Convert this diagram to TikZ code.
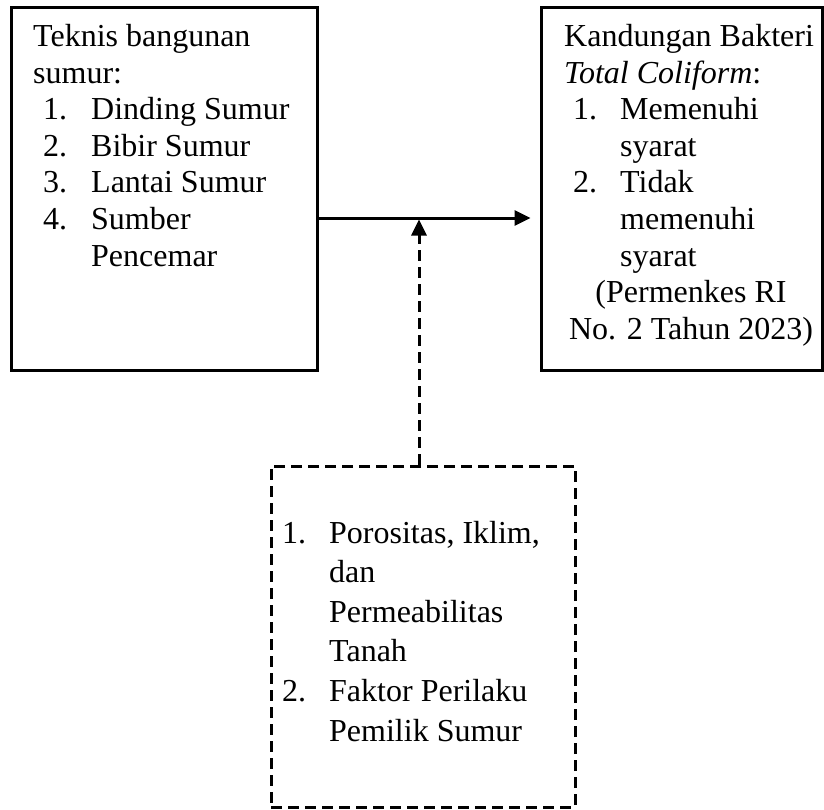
\documentclass[tikz,border=0pt]{standalone}
\usepackage{fontspec}
\setmainfont{Liberation Serif}
\usetikzlibrary{arrows.meta}
\begin{document}
\begin{tikzpicture}[x=1pt,y=-1pt,
  box/.style={draw, line width=3pt, inner sep=0pt},
  dbox/.style={draw, line width=3pt, inner sep=0pt, dash pattern=on 11pt off 6pt},
  txt/.style={anchor=base west, inner sep=0pt, font=\fontsize{32}{37}\selectfont},
  ctxt/.style={anchor=base, inner sep=0pt, font=\fontsize{32}{37}\selectfont},
  arr/.style={line width=3pt, -{Triangle[length=16pt,width=15pt]}},
  darr/.style={arr, dash pattern=on 11pt off 6pt}]
\useasboundingbox (0,0) rectangle (824,809);

% boxes
\node[box, minimum width=306pt, minimum height=363pt] (L) at (164,188.5) {};
\node[box, minimum width=281pt, minimum height=363pt] (R) at (681.5,188.5) {};
\node[dbox, minimum width=304pt, minimum height=341pt] (D) at (423,636.5) {};

% left box text
\node[txt] (l1) at (33,46.5) {Teknis bangunan};
\node[txt] (l2) at (33,83.1) {sumur:};
\node[txt] (l3n) at (43,119.7) {1.};
\node[txt] (l3) at (91,119.7) {Dinding Sumur};
\node[txt] (l4n) at (43,156.3) {2.};
\node[txt] (l4) at (91,156.3) {Bibir Sumur};
\node[txt] (l5n) at (43,192.9) {3.};
\node[txt] (l5) at (91,192.9) {Lantai Sumur};
\node[txt] (l6n) at (43,229.5) {4.};
\node[txt] (l6) at (91,229.5) {Sumber};
\node[txt] (l7) at (91,266.1) {Pencemar};

% right box text
\node[txt] (r1) at (564,46.5) {Kandungan Bakteri};
\node[txt] (r2) at (564,83.1) {\textit{Total Coliform}:};
\node[txt] (r3n) at (573,119.7) {1.};
\node[txt] (r3) at (620,119.7) {Memenuhi};
\node[txt] (r4) at (620,156.3) {syarat};
\node[txt] (r5n) at (573,192.9) {2.};
\node[txt] (r5) at (620,192.9) {Tidak};
\node[txt] (r6) at (620,229.5) {memenuhi};
\node[txt] (r7) at (620,266.1) {syarat};
\node[ctxt] (r8) at (691,302.7) {(Permenkes RI};
\node[ctxt] (r9) at (691,339.3) {No. 2 Tahun 2023)};

% dashed box text
\node[txt] (d1n) at (282,543) {1.};
\node[txt] (d1) at (329,543) {Porositas, Iklim,};
\node[txt] (d2) at (329,582.6) {dan};
\node[txt] (d3) at (329,622.2) {Permeabilitas};
\node[txt] (d4) at (329,661.8) {Tanah};
\node[txt] (d5n) at (282,701.4) {2.};
\node[txt] (d5) at (329,701.4) {Faktor Perilaku};
\node[txt] (d6) at (329,741) {Pemilik Sumur};

% connectors
\coordinate (j) at (419,218);
\draw[arr, shorten >=9pt] (L.east |- j) -- (R.west |- j);
\draw[darr, shorten >=1.5pt] (j |- D.north) -- (j);
\end{tikzpicture}
\end{document}
